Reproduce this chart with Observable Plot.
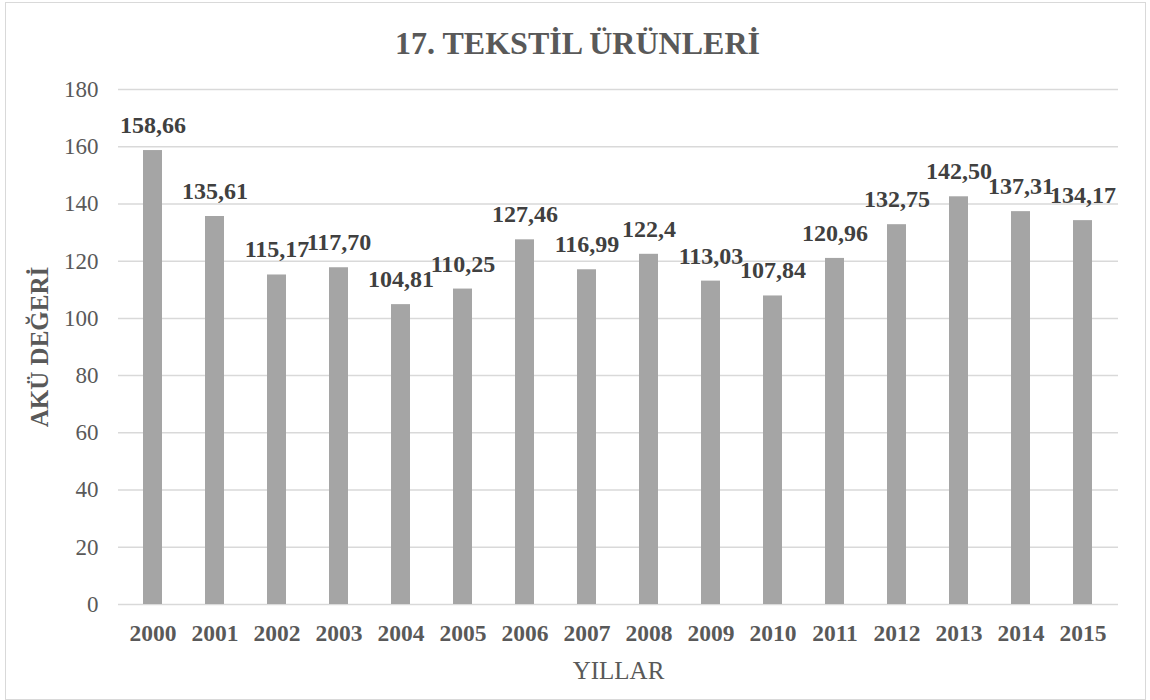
<!DOCTYPE html>
<html>
<head>
<meta charset="utf-8">
<script src="https://cdn.jsdelivr.net/npm/d3@7"></script>
<script src="https://cdn.jsdelivr.net/npm/@observablehq/plot@0.6"></script>
<style>
  html, body { margin: 0; padding: 0; background: #fff; }
  #wrap { position: relative; width: 1150px; height: 700px; overflow: hidden; background: #fff; }
  #border { position: absolute; left: 5px; top: 2px; width: 1141px; height: 698px; box-sizing: border-box; border: 1.5px solid #d9d9d9; pointer-events: none; }
  #chart svg { display: block; }
</style>
</head>
<body>
<div id="wrap"><div id="chart"></div><div id="border"></div></div>
<script>
const years = ["2000","2001","2002","2003","2004","2005","2006","2007","2008","2009","2010","2011","2012","2013","2014","2015"];
const values = [158.66, 135.61, 115.17, 117.70, 104.81, 110.25, 127.46, 116.99, 122.4, 113.03, 107.84, 120.96, 132.75, 142.50, 137.31, 134.17];
const valueLabels = ["158,66","135,61","115,17","117,70","104,81","110,25","127,46","116,99","122,4","113,03","107,84","120,96","132,75","142,50","137,31","134,17"];
const yTicks = [0, 20, 40, 60, 80, 100, 120, 140, 160, 180];
const title = "17. TEKSTİL ÜRÜNLERİ";
const yTitle = "AKÜ DEĞERİ";
const xTitle = "YILLAR";

const data = years.map((year, i) => ({year, value: values[i], label: valueLabels[i]}));

const chart = Plot.plot({
  width: 1150,
  height: 700,
  marginLeft: 118,
  marginRight: 32,
  marginTop: 89,
  marginBottom: 96,
  style: {fontFamily: "'Liberation Serif', 'Times New Roman', serif", color: "#595959", background: "transparent", overflow: "visible"},
  x: {domain: years, paddingInner: 0.69, paddingOuter: 0.345, label: null},
  y: {domain: [0, 180], label: null},
  marks: [
    Plot.gridY(yTicks, {stroke: "#d9d9d9", strokeOpacity: 1, strokeWidth: 1.5}),
    Plot.barY(data, {x: "year", y: "value", fill: "#a5a5a5"}),
    Plot.axisY(yTicks, {tickSize: 0, tickPadding: 20, fontSize: 23, fill: "#595959", label: null}),
    Plot.axisX({tickSize: 0, tickPadding: 20, fontSize: 23.5, fontWeight: "bold", fill: "#595959", label: null}),
    Plot.text(data, {x: "year", y: "value", text: "label", dy: -17.5, lineAnchor: "bottom", fontSize: 24, fontWeight: "bold", fill: "#404040"}),
    Plot.text([title], {frameAnchor: "top", dx: -41, dy: -36, lineAnchor: "bottom", fontSize: 32, fontWeight: "bold", fill: "#595959"}),
    Plot.text([xTitle], {frameAnchor: "bottom", dy: 74, lineAnchor: "bottom", fontSize: 25, fill: "#595959"}),
    Plot.text([yTitle], {frameAnchor: "left", textAnchor: "middle", dx: -71, rotate: -90, lineAnchor: "bottom", fontSize: 25, fontWeight: "bold", fill: "#595959"})
  ]
});
document.getElementById("chart").appendChild(chart);
</script>
</body>
</html>
